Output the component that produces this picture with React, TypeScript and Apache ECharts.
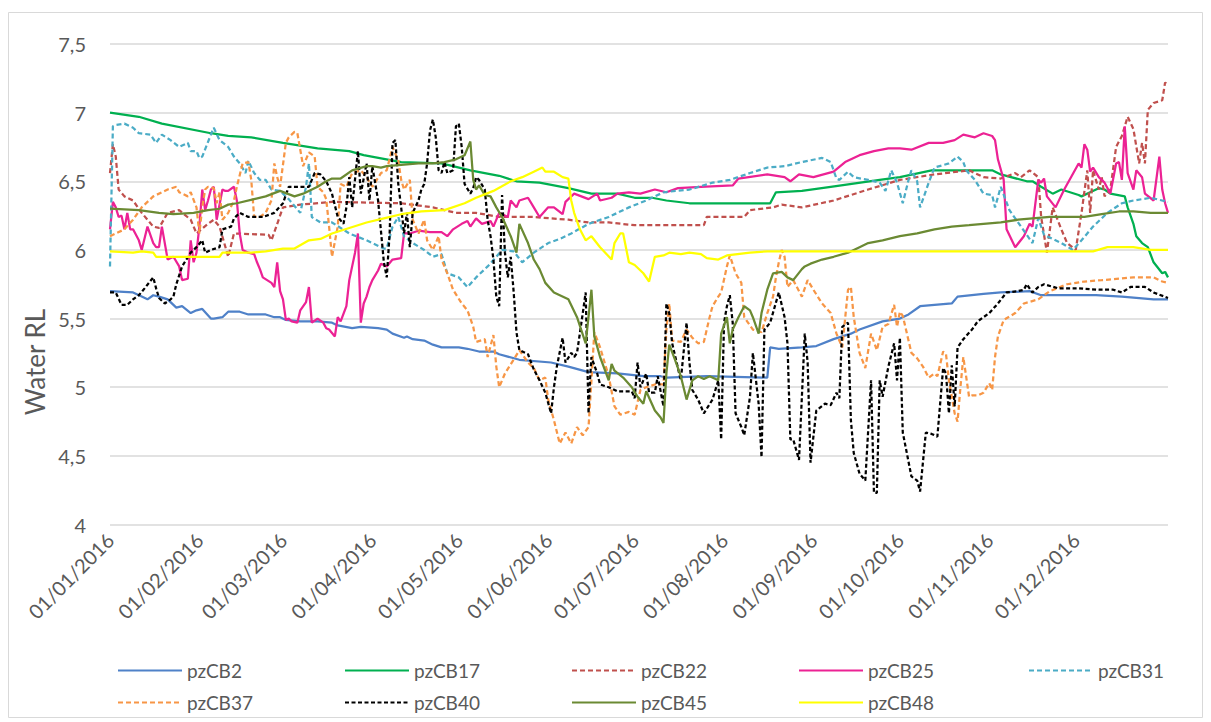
import React, { useEffect, useRef } from "react";
import * as echarts from "echarts";

// x values are day numbers counted from 01/01/2016 (day 0)
const monthDays = [0, 31, 60, 91, 121, 152, 182, 213, 244, 274, 305, 335];
const monthLabels = [
  "01/01/2016", "01/02/2016", "01/03/2016", "01/04/2016", "01/05/2016", "01/06/2016",
  "01/07/2016", "01/08/2016", "01/09/2016", "01/10/2016", "01/11/2016", "01/12/2016",
];
const yTicks = [4, 4.5, 5, 5.5, 6, 6.5, 7, 7.5];
const yTickLabels = ["4", "4,5", "5", "5,5", "6", "6,5", "7", "7,5"];

const seriesNames = ["pzCB2", "pzCB17", "pzCB22", "pzCB25", "pzCB31", "pzCB37", "pzCB40", "pzCB45", "pzCB48"];

const pzCB2 = [
  [0, 5.70], [8, 5.69], [11, 5.66], [13, 5.64], [15, 5.67], [17, 5.66], [20, 5.64], [23, 5.58], [25, 5.59],
  [28, 5.54], [30, 5.56], [32, 5.57], [35, 5.50], [36, 5.50], [39, 5.51], [41, 5.55], [45, 5.55], [48, 5.53],
  [54, 5.53], [57, 5.51], [59, 5.51], [61, 5.49], [66, 5.48], [72, 5.48], [77, 5.47], [79, 5.45], [84, 5.43],
  [87, 5.44], [93, 5.43], [96, 5.42], [98, 5.39], [102, 5.36], [103, 5.37], [105, 5.35], [109, 5.34], [112, 5.31],
  [115, 5.29], [121, 5.29], [124, 5.28], [128, 5.26], [133, 5.26], [135, 5.24], [142, 5.20], [153, 5.18],
  [159, 5.15], [166, 5.11], [176, 5.10], [185, 5.08], [191, 5.08], [193, 5.07], [207, 5.08], [228, 5.07],
  [229, 5.29], [232, 5.28], [240, 5.29], [245, 5.30], [251, 5.35], [257, 5.39], [260, 5.42], [268, 5.48],
  [274, 5.50], [277, 5.53], [281, 5.59], [292, 5.61], [294, 5.66], [303, 5.68], [309, 5.69], [319, 5.70],
  [323, 5.67], [342, 5.67], [351, 5.66], [362, 5.64], [367, 5.64],
];

const pzCB17 = [
  [0, 7.0], [10, 6.97], [18, 6.92], [35, 6.85], [41, 6.83], [49, 6.82], [60, 6.78], [72, 6.74], [83, 6.72],
  [88, 6.69], [101, 6.64], [115, 6.63], [125, 6.58], [135, 6.54], [141, 6.50], [149, 6.49], [159, 6.45],
  [167, 6.41], [176, 6.41], [182, 6.38], [188, 6.38], [193, 6.36], [201, 6.34], [229, 6.34], [231, 6.42],
  [240, 6.43], [250, 6.46], [267, 6.51], [274, 6.53], [285, 6.58], [306, 6.58], [309, 6.55], [318, 6.50],
  [320, 6.50], [323, 6.46], [327, 6.41], [330, 6.44], [336, 6.40], [337, 6.39], [340, 6.42], [343, 6.45],
  [345, 6.44], [347, 6.41], [352, 6.39], [353, 6.31], [355, 6.19], [356, 6.10], [358, 6.05], [360, 6.02],
  [362, 5.91], [365, 5.83], [366, 5.84], [367, 5.80],
];

const pzCB22 = [
  [0, 6.56], [1, 6.77], [2, 6.68], [3, 6.44], [5, 6.39], [8, 6.36], [11, 6.27], [15, 6.17], [17, 6.16],
  [20, 6.27], [24, 6.29], [28, 6.22], [30, 6.12], [34, 6.19], [36, 6.22], [38, 6.17], [41, 5.95], [43, 6.12],
  [55, 6.11], [56, 6.07], [60, 6.31], [66, 6.33], [77, 6.35], [101, 6.34], [112, 6.31], [120, 6.27],
  [127, 6.27], [135, 6.24], [147, 6.24], [159, 6.22], [166, 6.20], [173, 6.20], [182, 6.18], [193, 6.18],
  [206, 6.18], [207, 6.24], [220, 6.24], [222, 6.29], [230, 6.31], [233, 6.33], [240, 6.31], [251, 6.36],
  [263, 6.44], [274, 6.51], [286, 6.55], [298, 6.58], [303, 6.53], [309, 6.52], [314, 6.56], [316, 6.53],
  [319, 6.58], [322, 6.53], [323, 6.24], [325, 5.98], [327, 6.31], [330, 6.15], [332, 6.05], [335, 6.00],
  [337, 6.27], [339, 6.58], [340, 6.27], [341, 6.58], [343, 6.44], [344, 6.53], [345, 6.39], [347, 6.44],
  [349, 6.75], [351, 6.83], [353, 6.97], [355, 6.88], [357, 6.63], [358, 6.78], [359, 6.63], [360, 7.02],
  [362, 7.07], [365, 7.09], [366, 7.22], [367, 7.20],
];

const pzCB25 = [
  [0, 6.15], [1, 6.35], [2, 6.31], [3, 6.24], [4, 6.25], [5, 6.15], [6, 6.27], [7, 6.15], [8, 6.15],
  [10, 6.07], [11, 6.0], [13, 6.17], [15, 6.05], [16, 6.02], [17, 6.02], [18, 6.17], [20, 5.93], [22, 5.95],
  [24, 5.88], [25, 5.78], [27, 5.79], [28, 6.07], [29, 5.91], [30, 5.98], [31, 6.17], [32, 6.44], [33, 6.29],
  [34, 6.36], [35, 6.44], [36, 6.46], [37, 6.22], [39, 6.44], [40, 6.43], [41, 6.43], [43, 6.46], [44, 6.36],
  [45, 6.12], [46, 6.0], [48, 5.98], [50, 5.97], [51, 5.91], [52, 5.86], [53, 5.80], [56, 5.76], [57, 5.73],
  [58, 5.91], [59, 5.70], [60, 5.64], [61, 5.49], [62, 5.50], [63, 5.48], [65, 5.47], [66, 5.56], [68, 5.62],
  [69, 5.73], [70, 5.47], [72, 5.50], [74, 5.47], [75, 5.43], [76, 5.42], [78, 5.37], [79, 5.51], [80, 5.48],
  [82, 5.59], [83, 5.78], [85, 5.98], [86, 6.12], [87, 5.47], [88, 5.61], [89, 5.66], [90, 5.73], [91, 5.78],
  [93, 5.85], [94, 5.90], [96, 5.88], [98, 5.93], [101, 5.94], [102, 6.12], [104, 6.12], [107, 6.14],
  [111, 6.13], [115, 6.13], [117, 6.10], [119, 6.15], [122, 6.19], [124, 6.21], [125, 6.17], [127, 6.23],
  [129, 6.19], [132, 6.21], [133, 6.17], [135, 6.27], [138, 6.24], [139, 6.36], [141, 6.31], [142, 6.36],
  [145, 6.38], [147, 6.31], [149, 6.24], [152, 6.31], [154, 6.31], [157, 6.26], [158, 6.35], [161, 6.41],
  [166, 6.37], [169, 6.41], [170, 6.36], [174, 6.38], [176, 6.41], [180, 6.42], [184, 6.41], [189, 6.44],
  [193, 6.42], [197, 6.45], [205, 6.46], [216, 6.47], [218, 6.52], [228, 6.55], [234, 6.53], [236, 6.50],
  [239, 6.55], [244, 6.53], [251, 6.57], [255, 6.64], [260, 6.69], [265, 6.72], [270, 6.74], [274, 6.74],
  [278, 6.73], [284, 6.78], [289, 6.78], [293, 6.80], [296, 6.84], [300, 6.82], [303, 6.85], [306, 6.83],
  [307, 6.80], [308, 6.66], [310, 6.51], [311, 6.15], [314, 6.02], [317, 6.10], [319, 6.19], [320, 6.17],
  [322, 6.51], [323, 6.49], [324, 6.52], [325, 6.39], [328, 6.31], [331, 6.44], [336, 6.63], [337, 6.60],
  [338, 6.77], [339, 6.73], [340, 6.57], [341, 6.60], [343, 6.53], [345, 6.49], [347, 6.41], [349, 6.63],
  [350, 6.64], [351, 6.51], [352, 6.90], [353, 6.56], [355, 6.44], [356, 6.58], [358, 6.53], [359, 6.41],
  [362, 6.36], [364, 6.68], [365, 6.44], [366, 6.34], [367, 6.27],
];

const pzCB31 = [
  [0, 5.88], [1, 6.90], [2, 6.91], [5, 6.92], [8, 6.89], [10, 6.85], [14, 6.84], [16, 6.78], [18, 6.84],
  [21, 6.80], [24, 6.75], [27, 6.78], [28, 6.72], [30, 6.72], [31, 6.67], [32, 6.68], [35, 6.84], [36, 6.89],
  [38, 6.80], [41, 6.75], [43, 6.68], [45, 6.63], [47, 6.56], [48, 6.65], [50, 6.56], [52, 6.51], [54, 6.51],
  [56, 6.44], [59, 6.43], [62, 6.37], [66, 6.27], [68, 6.46], [69, 6.63], [70, 6.24], [73, 6.20], [77, 6.20],
  [83, 6.12], [89, 6.07], [95, 6.01], [96, 6.01], [98, 6.17], [100, 6.24], [102, 6.10], [105, 6.05],
  [109, 6.0], [112, 5.95], [115, 5.97], [117, 5.83], [121, 5.80], [124, 5.73], [127, 5.80], [131, 5.88],
  [134, 5.95], [136, 6.0], [140, 5.99], [143, 5.91], [147, 5.98], [152, 6.05], [156, 6.08], [160, 6.12],
  [166, 6.19], [173, 6.24], [180, 6.31], [186, 6.36], [192, 6.42], [201, 6.44], [209, 6.49], [215, 6.51],
  [222, 6.56], [228, 6.60], [234, 6.61], [240, 6.64], [247, 6.67], [250, 6.64], [252, 6.52], [253, 6.51],
  [256, 6.57], [258, 6.53], [263, 6.51], [267, 6.49], [269, 6.43], [271, 6.58], [273, 6.49], [275, 6.34],
  [277, 6.51], [278, 6.58], [280, 6.50], [281, 6.31], [284, 6.49], [286, 6.60], [291, 6.63], [294, 6.68],
  [296, 6.64], [297, 6.58], [300, 6.51], [303, 6.41], [306, 6.40], [307, 6.31], [309, 6.46], [312, 6.29],
  [316, 6.17], [320, 6.05], [322, 6.23], [324, 6.11], [330, 6.05], [334, 6.0], [337, 6.07], [341, 6.17],
  [346, 6.27], [351, 6.34], [355, 6.36], [361, 6.38], [367, 6.35],
];

const pzCB37 = [
  [0, 6.10], [2, 6.12], [5, 6.15], [8, 6.22], [11, 6.31], [15, 6.39], [20, 6.44], [23, 6.46], [24, 6.42],
  [27, 6.39], [28, 6.42], [30, 6.31], [31, 6.12], [32, 6.31], [33, 6.44], [34, 6.46], [36, 6.45], [37, 6.34],
  [38, 6.42], [39, 6.22], [41, 6.27], [43, 6.36], [44, 6.46], [46, 6.63], [48, 6.64], [49, 6.51], [50, 6.24],
  [52, 6.24], [54, 6.27], [56, 6.36], [57, 6.63], [58, 6.53], [59, 6.46], [61, 6.78], [62, 6.82], [64, 6.86],
  [65, 6.85], [67, 6.61], [68, 6.66], [69, 6.71], [71, 6.68], [72, 6.46], [74, 6.42], [75, 6.37], [76, 6.17],
  [77, 5.95], [79, 6.17], [80, 6.48], [82, 6.46], [84, 6.56], [87, 6.58], [89, 6.53], [91, 6.46], [94, 6.56],
  [96, 6.58], [98, 6.75], [100, 6.65], [101, 6.51], [102, 6.44], [104, 6.51], [105, 6.22], [107, 6.12],
  [109, 6.22], [110, 6.07], [112, 6.0], [114, 6.10], [115, 5.93], [117, 5.83], [119, 5.71], [122, 5.61],
  [124, 5.56], [126, 5.44], [127, 5.33], [130, 5.35], [131, 5.22], [133, 5.38], [134, 5.15], [135, 5.0],
  [137, 5.10], [140, 5.20], [142, 5.27], [145, 5.18], [147, 5.14], [149, 5.05], [151, 5.07], [152, 4.91],
  [154, 4.76], [156, 4.59], [158, 4.67], [160, 4.59], [162, 4.71], [164, 4.65], [166, 4.71], [167, 5.05],
  [168, 5.40], [170, 5.29], [173, 5.08], [175, 4.86], [177, 4.80], [180, 4.82], [182, 4.80], [184, 4.98],
  [186, 5.00], [189, 5.02], [192, 5.02], [193, 5.42], [194, 5.61], [195, 5.34], [198, 5.33], [200, 5.42],
  [202, 5.36], [204, 5.32], [206, 5.33], [208, 5.51], [209, 5.59], [211, 5.66], [212, 5.69], [214, 5.88],
  [215, 5.96], [217, 5.83], [219, 5.76], [220, 5.51], [223, 5.42], [226, 5.40], [228, 5.54], [230, 5.66],
  [231, 5.80], [232, 5.91], [233, 6.0], [234, 5.95], [235, 5.73], [237, 5.78], [240, 5.66], [242, 5.78],
  [244, 5.71], [247, 5.61], [250, 5.54], [252, 5.39], [254, 5.29], [256, 5.71], [257, 5.73], [258, 5.51],
  [260, 5.25], [262, 5.14], [264, 5.39], [266, 5.27], [268, 5.44], [270, 5.46], [272, 5.60], [273, 5.44],
  [274, 5.55], [275, 5.52], [278, 5.25], [280, 5.21], [282, 5.15], [284, 5.07], [286, 5.10], [287, 5.08],
  [289, 5.26], [290, 5.24], [291, 5.05], [293, 4.81], [294, 4.75], [295, 5.0], [296, 5.22], [298, 4.93],
  [299, 4.94], [301, 4.94], [303, 4.96], [305, 5.03], [306, 4.98], [307, 5.22], [308, 5.37], [310, 5.49],
  [314, 5.54], [317, 5.61], [322, 5.64], [326, 5.70], [332, 5.75], [338, 5.77], [344, 5.78], [355, 5.80],
  [362, 5.80], [365, 5.77], [367, 5.76],
];

const pzCB40 = [
  [0, 5.69], [2, 5.69], [4, 5.60], [6, 5.60], [8, 5.64], [10, 5.67], [12, 5.72], [15, 5.80], [16, 5.72],
  [17, 5.65], [19, 5.61], [21, 5.64], [22, 5.66], [23, 5.75], [25, 5.88], [28, 5.98], [30, 6.02], [32, 6.07],
  [33, 5.98], [35, 6.0], [38, 6.02], [39, 6.15], [42, 6.17], [43, 6.23], [45, 6.27], [48, 6.24], [53, 6.24],
  [57, 6.27], [60, 6.34], [62, 6.46], [66, 6.46], [69, 6.46], [71, 6.56], [73, 6.55], [75, 6.50], [77, 6.41],
  [79, 6.24], [81, 6.19], [82, 6.31], [83, 6.53], [84, 6.31], [86, 6.72], [87, 6.41], [89, 6.63], [90, 6.36],
  [91, 6.61], [93, 6.36], [95, 5.91], [96, 5.80], [97, 6.12], [98, 6.78], [99, 6.80], [100, 6.48], [101, 6.31],
  [102, 6.12], [103, 6.27], [104, 6.02], [105, 6.27], [107, 6.36], [108, 6.44], [109, 6.48], [110, 6.63],
  [111, 6.87], [112, 6.95], [113, 6.82], [114, 6.58], [115, 6.56], [116, 6.64], [117, 6.56], [119, 6.58],
  [120, 6.90], [121, 6.92], [122, 6.75], [123, 6.48], [125, 6.41], [126, 6.45], [127, 6.53], [128, 6.51],
  [130, 6.44], [131, 6.22], [132, 6.10], [133, 5.93], [134, 5.66], [135, 5.59], [136, 6.40], [137, 5.98],
  [138, 5.80], [139, 5.95], [140, 5.70], [141, 5.40], [142, 5.27], [145, 5.24], [147, 5.13], [149, 5.05],
  [151, 4.96], [153, 4.81], [154, 5.0], [155, 5.15], [157, 5.36], [158, 5.18], [160, 5.25], [161, 5.22],
  [162, 5.25], [164, 5.54], [165, 5.69], [166, 4.81], [166.5, 5.05], [167, 5.22], [169, 5.10], [170, 5.02],
  [173, 5.0], [176, 4.97], [181, 4.97], [182, 4.92], [183, 5.18], [184, 5.0], [186, 5.10], [187, 4.96],
  [189, 4.96], [190, 5.08], [192, 4.86], [193, 5.61], [194, 5.54], [195, 5.32], [198, 5.05], [200, 5.47],
  [201, 5.18], [202, 4.98], [204, 4.91], [206, 4.81], [209, 4.91], [211, 5.05], [212, 4.62], [213, 5.47],
  [214, 5.59], [215, 5.67], [216, 5.47], [217, 4.81], [219, 4.71], [220, 4.65], [222, 4.93], [223, 5.25],
  [225, 4.88], [226, 4.49], [227, 5.42], [229, 5.47], [232, 5.69], [234, 5.51], [235, 5.32], [236, 4.62],
  [237, 4.62], [239, 4.47], [241, 5.39], [242, 5.18], [243, 4.45], [245, 4.83], [248, 4.88], [250, 4.87],
  [252, 4.96], [253, 4.92], [254, 5.44], [256, 5.47], [257, 4.76], [258, 4.52], [260, 4.37], [262, 4.32],
  [264, 5.05], [265, 4.23], [266, 4.23], [267, 5.05], [268, 4.93], [270, 5.15], [272, 5.32], [273, 5.05],
  [274, 5.36], [275, 4.67], [278, 4.35], [280, 4.32], [281, 4.24], [283, 4.67], [285, 4.66], [287, 4.64],
  [289, 5.14], [290, 5.10], [291, 4.81], [292, 5.16], [293, 4.86], [294, 5.29], [296, 5.35], [299, 5.42],
  [301, 5.48], [305, 5.54], [308, 5.61], [311, 5.69], [315, 5.70], [317, 5.71], [318, 5.75], [320, 5.69],
  [322, 5.73], [324, 5.75], [329, 5.72], [336, 5.72], [343, 5.71], [348, 5.71], [351, 5.69], [354, 5.73],
  [359, 5.73], [362, 5.69], [367, 5.65],
];

const pzCB45 = [
  [0, 6.30], [10, 6.29], [17, 6.27], [22, 6.26], [29, 6.27], [34, 6.29], [38, 6.30], [41, 6.33], [44, 6.34],
  [50, 6.37], [54, 6.39], [59, 6.43], [64, 6.39], [67, 6.41], [72, 6.46], [75, 6.50], [77, 6.52], [80, 6.52],
  [84, 6.58], [89, 6.61], [91, 6.61], [94, 6.60], [96, 6.61], [101, 6.62], [107, 6.63], [112, 6.63],
  [116, 6.64], [120, 6.66], [123, 6.69], [125, 6.79], [126, 6.51], [127, 6.44], [128, 6.47], [130, 6.40],
  [132, 6.39], [134, 6.31], [136, 6.24], [139, 6.10], [141, 5.98], [142, 6.19], [145, 6.05], [147, 5.93],
  [149, 5.86], [151, 5.76], [154, 5.69], [159, 5.64], [162, 5.51], [165, 5.32], [167, 5.71], [168, 5.37],
  [170, 5.22], [173, 5.05], [174, 5.17], [175, 5.12], [178, 5.07], [181, 5.0], [183, 4.93], [185, 4.88],
  [186, 4.97], [189, 4.83], [191, 4.78], [192, 4.74], [193, 5.10], [194, 5.31], [196, 5.20], [198, 5.08],
  [200, 4.91], [202, 5.05], [204, 5.08], [206, 5.06], [208, 5.08], [211, 5.05], [212, 5.39], [214, 5.51],
  [215, 5.32], [216, 5.42], [218, 5.51], [220, 5.59], [222, 5.56], [223, 5.51], [225, 5.39], [226, 5.54],
  [228, 5.71], [230, 5.83], [233, 5.84], [235, 5.80], [237, 5.78], [240, 5.86], [241, 5.88], [243, 5.90],
  [247, 5.93], [251, 5.95], [256, 5.98], [260, 6.02], [263, 6.05], [268, 6.07], [274, 6.10], [280, 6.12],
  [286, 6.15], [292, 6.17], [298, 6.18], [303, 6.19], [309, 6.20], [315, 6.22], [320, 6.23], [326, 6.24],
  [338, 6.24], [344, 6.26], [350, 6.28], [355, 6.28], [361, 6.27], [367, 6.27],
];

const pzCB48 = [
  [0, 5.99], [8, 5.98], [11, 5.99], [15, 5.98], [16, 5.95], [25, 5.95], [38, 5.95], [39, 5.98], [49, 5.98],
  [54, 5.99], [60, 6.01], [64, 6.01], [69, 6.07], [73, 6.08], [77, 6.12], [83, 6.16], [89, 6.20], [95, 6.23],
  [101, 6.26], [108, 6.28], [116, 6.29], [123, 6.34], [127, 6.38], [133, 6.43], [139, 6.50], [143, 6.53],
  [147, 6.57], [150, 6.60], [151, 6.57], [154, 6.57], [157, 6.53], [159, 6.52], [160, 6.36], [161, 6.27],
  [163, 6.15], [165, 6.07], [167, 6.10], [170, 6.02], [174, 5.93], [175, 6.05], [177, 6.12], [178, 6.12],
  [180, 5.91], [182, 5.89], [185, 5.83], [187, 5.77], [189, 5.95], [192, 5.96], [194, 5.98], [198, 5.97],
  [201, 5.98], [205, 5.97], [207, 5.94], [211, 5.93], [214, 5.96], [222, 5.98], [228, 5.99], [240, 5.99],
  [341, 5.99], [346, 6.02], [355, 6.02], [361, 6.0], [367, 6.0],
];

const seriesData = [pzCB2, pzCB17, pzCB22, pzCB25, pzCB31, pzCB37, pzCB40, pzCB45, pzCB48];
const colors = ["#4F81C8", "#00B050", "#C0504D", "#EC2294", "#4BACC6", "#F79646", "#000000", "#6B8A33", "#FFFF00"];
const dashes: (number[] | null)[] = [null, null, [5, 3], null, [5, 3], [5, 3], [4, 2.5], null, null];

const FONT = "Lato, 'Open Sans', sans-serif";
const TXT = "#595959";

export default function App() {
  const ref = useRef<HTMLDivElement>(null);
  useEffect(() => {
    if (!ref.current) return;
    const chart = echarts.init(ref.current, undefined, { renderer: "svg" });
    const legendLeft = [112, 339, 566, 793, 1023];
    const legends = seriesNames.map((n, i) => ({
      data: [n],
      left: legendLeft[i % 5],
      top: i < 5 ? 656 : 688,
      itemWidth: 64,
      itemHeight: 18,
      selectedMode: false,
      itemStyle: { opacity: 0 },
      textStyle: { color: TXT, fontSize: 19, fontFamily: FONT },
    }));
    chart.setOption({
      animation: false,
      backgroundColor: "#ffffff",
      textStyle: { fontFamily: FONT },
      grid: { left: 110, right: 43, top: 44, bottom: 197.5 },
      legend: legends,
      graphic: [
        {
          type: "rect",
          shape: { x: 8.5, y: 12.5, width: 1194, height: 705 },
          style: { fill: "none", stroke: "#D9D9D9", lineWidth: 1 },
          silent: true,
        },
        {
          type: "text",
          x: 35,
          y: 362,
          rotation: Math.PI / 2,
          style: {
            text: "Water RL",
            fill: TXT,
            fontSize: 26,
            fontFamily: FONT,
            textAlign: "center",
            textVerticalAlign: "middle",
          },
        },
      ],
      xAxis: {
        type: "value",
        min: 0,
        max: 367,
        axisLine: { show: false },
        axisTick: { show: false },
        splitLine: { show: false },
        axisLabel: {
          customValues: monthDays,
          rotate: 45,
          margin: 12,
          color: TXT,
          fontSize: 20,
          fontFamily: FONT,
          formatter: (v: number) => {
            const i = monthDays.indexOf(v);
            return i >= 0 ? monthLabels[i] : "";
          },
        },
      },
      yAxis: {
        type: "value",
        min: 4,
        max: 7.5,
        interval: 0.5,
        axisLine: { show: false },
        axisTick: { show: false },
        splitLine: { lineStyle: { color: "#D9D9D9", width: 1.5 } },
        axisLabel: {
          margin: 24,
          color: TXT,
          fontSize: 20,
          fontFamily: FONT,
          formatter: (v: number) => {
            const i = yTicks.findIndex((t) => Math.abs(t - v) < 1e-6);
            return i >= 0 ? yTickLabels[i] : "";
          },
        },
      },
      series: seriesNames.map((n, i) => ({
        name: n,
        type: "line",
        data: seriesData[i],
        showSymbol: false,
        symbol: "none",
        color: colors[i],
        lineStyle: {
          color: colors[i],
          width: 2.25,
          type: dashes[i] ? dashes[i] : "solid",
        },
      })),
    });
    return () => chart.dispose();
  }, []);
  return (
    <div
      ref={ref}
      style={{ position: "fixed", left: 0, top: 0, width: 1211, height: 722, background: "#fff" }}
    />
  );
}
